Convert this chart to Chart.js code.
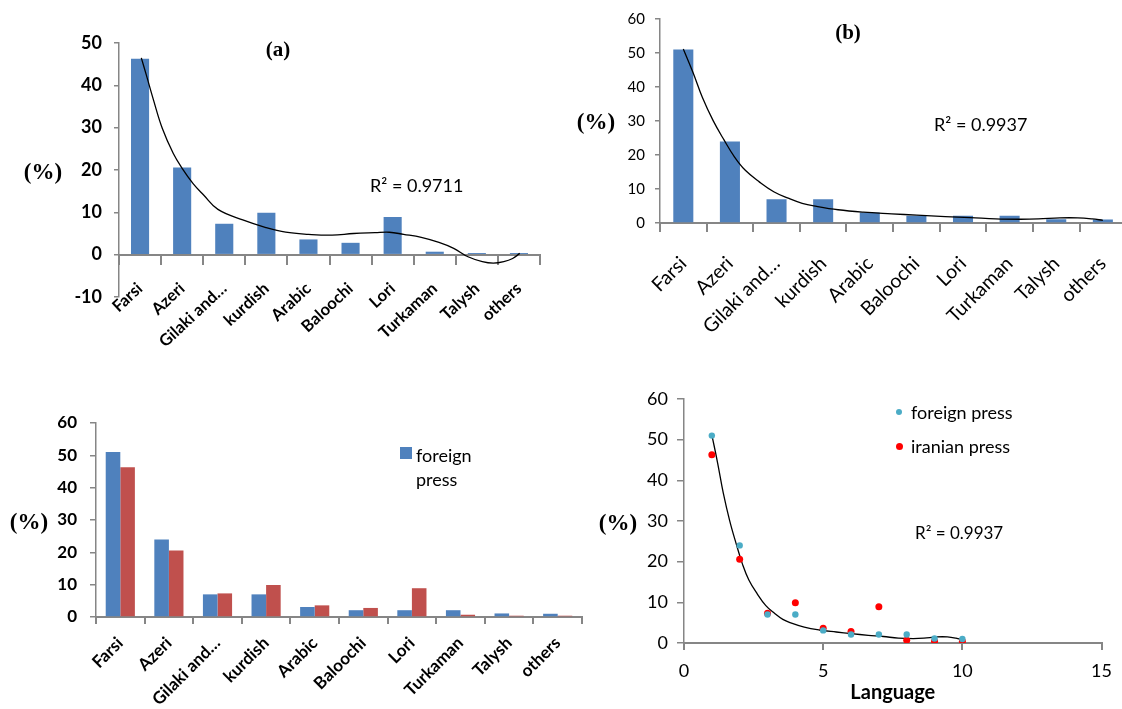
<!DOCTYPE html>
<html>
<head>
<meta charset="utf-8">
<script src="https://cdn.jsdelivr.net/npm/chart.js@4"></script>
<style>
  html, body { margin: 0; padding: 0; background: #fff; overflow: hidden; }
  #wrap { position: relative; width: 1122px; height: 709px; overflow: hidden; }
  canvas { position: absolute; }
  .lbl { position: absolute; white-space: nowrap; color: #000; line-height: 1; }
  .pct { font: bold 23px "Liberation Serif", serif; transform: translate(-50%, -50%); }
  .ttl { font: bold 21px "Liberation Serif", serif; transform: translate(-50%, -50%); }
  .r2 { font: 18px Lato, sans-serif; transform: translateY(-50%); }
  .leg { font: 18px Lato, sans-serif; }
</style>
</head>
<body>
<div id="wrap">
  <canvas id="chartA" width="560" height="365" style="left:0;top:0"></canvas>
  <canvas id="chartB" width="580" height="340" style="left:560px;top:0"></canvas>
  <canvas id="chartC" width="600" height="349" style="left:0;top:360px"></canvas>
  <canvas id="chartD" width="562" height="349" style="left:560px;top:360px"></canvas>

  <div class="lbl ttl" style="left:278px;top:49px">(a)</div>
  <div class="lbl ttl" style="left:848px;top:32px">(b)</div>
  <div class="lbl pct" style="left:43px;top:172px">(%)</div>
  <div class="lbl pct" style="left:596px;top:122px">(%)</div>
  <div class="lbl pct" style="left:29px;top:522px">(%)</div>
  <div class="lbl pct" style="left:618px;top:523px">(%)</div>
  <div class="lbl r2" style="left:370px;top:185px">R² = 0.9711</div>
  <div class="lbl r2" style="left:934px;top:124px">R² = 0.9937</div>
  <div class="lbl r2" style="left:915px;top:532px;font-size:17px">R² = 0.9937</div>

  <div class="lbl leg" style="left:400px;top:447px">
    <span style="position:absolute;left:0;top:0;width:12px;height:12px;background:#4F81BD"></span>
    <span style="position:absolute;left:16px;top:-4px;line-height:24px">foreign<br>press</span>
  </div>
  <div class="lbl leg" style="left:896px;top:402px">
    <span style="position:absolute;left:0;top:7px;width:6px;height:6px;border-radius:50%;background:#4BACC6"></span>
    <span style="position:absolute;left:15px;top:0;line-height:20px">foreign press</span>
    <span style="position:absolute;left:0;top:41px;width:7px;height:7px;border-radius:50%;background:#FF0000"></span>
    <span style="position:absolute;left:15px;top:34px;line-height:20px">iranian press</span>
  </div>
</div>

<script>
// categories
const languages = ['Farsi', 'Azeri', 'Gilaki and\u2026', 'kurdish', 'Arabic', 'Baloochi', 'Lori', 'Turkaman', 'Talysh', 'others'];
const languageNo = [1, 2, 3, 4, 5, 6, 7, 8, 9, 10];

// share of each language (%)
const foreignPress = [51, 24, 7, 7, 3.1, 2.1, 2.1, 2.1, 1.1, 1];
const iranianPress = [46.3, 20.6, 7.3, 9.9, 3.6, 2.8, 8.9, 0.7, 0.4, 0.4];

// trend lines (x = language number)
const trendIranX = [1.03, 1.15, 1.32, 1.53, 1.79, 2, 2.26, 2.51, 2.85, 3.44, 3.99, 4.46, 5, 5.56, 6.07, 6.58, 6.92, 7.26, 7.68, 8.1, 8.45, 8.79, 9.13, 9.39, 9.64, 9.85, 10.02];
const trendIranY = [46.5, 42.4, 36.5, 29.8, 23.9, 20.4, 16.8, 14.1, 10.7, 8.2, 6.4, 5.3, 4.8, 4.6, 5.0, 5.2, 5.3, 4.8, 4.1, 2.9, 1.5, -0.5, -1.65, -2.0, -1.65, -0.9, 0.3];
const trendForX = [1, 1.21, 1.41, 1.64, 1.87, 2.1, 2.33, 2.63, 2.94, 3.25, 3.55, 3.86, 4.32, 4.86, 5.47, 6.01, 6.62, 7.16, 7.7, 8.24, 8.62, 9.08, 9.46, 9.77, 10];
const trendForY = [51.2, 44.2, 36.9, 30.1, 24.5, 19.4, 15.5, 12.1, 9.2, 7.3, 5.8, 4.9, 3.9, 3.2, 2.7, 2.3, 1.9, 1.6, 1.2, 1.1, 1.2, 1.5, 1.5, 1.2, 0.8];

const BLUE = '#4F81BD', RED = '#C0504D', AXIS = '#868686';
const FONT = 'Lato, sans-serif';

function pts(xs, ys) { return xs.map((x, i) => ({ x: x, y: ys[i] })); }

// trend on the category axis: category index is 0-based, so shift by one
function trendOnCats(xs, ys) {
  return {
    type: 'line', data: pts(xs.map(x => x - 1), ys), parsing: false, grouped: false,
    borderColor: '#000', borderWidth: 1.3, pointRadius: 0,
    tension: 0.4, fill: false, order: 0
  };
}

function baseOpts(pad) {
  return {
    animation: false, responsive: false, maintainAspectRatio: false,
    layout: { padding: pad },
    plugins: { legend: { display: false }, tooltip: { enabled: false } }
  };
}

function yAxis(max, min, width, font, tl, pad) {
  return {
    min: min, max: max,
    ticks: { stepSize: 10, color: '#000', font: font, padding: pad },
    grid: { drawOnChartArea: false, tickLength: tl, color: AXIS, lineWidth: 1.5 },
    border: { color: AXIS, width: 1.5 },
    afterFit: s => { s.width = width; }
  };
}

function catAxis(font, tl, pad, rot, extra) {
  return Object.assign({
    grid: { drawOnChartArea: false, tickLength: tl, color: AXIS, lineWidth: 2, offset: true },
    border: { color: AXIS, width: 2 },
    ticks: { color: '#000', font: font, minRotation: rot, maxRotation: rot, autoSkip: false, padding: pad }
  }, extra);
}

// (a) iranian press
const optsA = baseOpts({ top: 43, right: 20, bottom: 68, left: 0 });
optsA.scales = {
  x: catAxis({ family: FONT, size: 16.5, weight: 'bold' }, 9, 15, 43, { position: { y: 0 } }),
  y: yAxis(50, -10, 119, { family: FONT, size: 18, weight: 'bold' }, 5, 12)
};
new Chart(document.getElementById('chartA'), {
  type: 'bar',
  data: {
    labels: languages,
    datasets: [
      trendOnCats(trendIranX, trendIranY),
      { label: 'iranian press', data: iranianPress, backgroundColor: BLUE, barPercentage: 0.43, categoryPercentage: 1, grouped: false, order: 1 }
    ]
  },
  options: optsA
});

// (b) foreign press
const optsB = baseOpts({ top: 17, right: 12, bottom: 0, left: 0 });
optsB.scales = {
  x: catAxis({ family: FONT, size: 19.5 }, 9, 20, 45, { afterFit: s => { s.height = 117; } }),
  y: yAxis(60, 0, 100, { family: FONT, size: 15 }, 5, 10)
};
new Chart(document.getElementById('chartB'), {
  type: 'bar',
  data: {
    labels: languages,
    datasets: [
      trendOnCats(trendForX, trendForY),
      { label: 'foreign press', data: foreignPress, backgroundColor: BLUE, barPercentage: 0.43, categoryPercentage: 1, grouped: false, order: 1 }
    ]
  },
  options: optsB
});

// (c) both presses
const optsC = baseOpts({ top: 63, right: 18, bottom: 0, left: 0 });
optsC.scales = {
  x: catAxis({ family: FONT, size: 17, weight: 'bold' }, 7, 9, 45, { afterFit: s => { s.height = 92; } }),
  y: yAxis(60, 0, 96, { family: FONT, size: 17, weight: 'bold' }, 6, 13)
};
new Chart(document.getElementById('chartC'), {
  type: 'bar',
  data: {
    labels: languages,
    datasets: [
      { label: 'foreign press', data: foreignPress, backgroundColor: BLUE, barPercentage: 1, categoryPercentage: 0.6 },
      { label: 'iranian press', data: iranianPress, backgroundColor: RED, barPercentage: 1, categoryPercentage: 0.6 }
    ]
  },
  options: optsC
});

// (d) scatter by language number
const optsD = baseOpts({ top: 39, right: 19, bottom: 0, left: 0 });
optsD.scales = {
  x: {
    type: 'linear', min: 0, max: 15,
    ticks: { stepSize: 5, color: '#000', font: { family: FONT, size: 18 }, padding: 10 },
    grid: { drawOnChartArea: false, tickLength: 7, color: AXIS, lineWidth: 2 },
    border: { color: AXIS, width: 2 },
    title: { display: true, text: 'Language', color: '#000', font: { family: FONT, size: 20, weight: 'bold' }, padding: { top: 0, bottom: 4 } },
    afterFit: s => { s.height = 66; }
  },
  y: yAxis(60, 0, 124, { family: FONT, size: 18 }, 7, 9)
};
new Chart(document.getElementById('chartD'), {
  type: 'scatter',
  data: {
    datasets: [
      { label: 'foreign press', data: pts(languageNo, foreignPress), backgroundColor: '#4BACC6', borderWidth: 0, pointRadius: 3.2, order: 1 },
      { label: 'iranian press', data: pts(languageNo, iranianPress), backgroundColor: '#FF0000', borderWidth: 0, pointRadius: 3.5, order: 1 },
      {
        type: 'line', data: pts(trendForX, trendForY), showLine: true,
        borderColor: '#000', borderWidth: 1.3, pointRadius: 0, tension: 0.4, fill: false, order: 2
      }
    ]
  },
  options: optsD
});
</script>
</body>
</html>
